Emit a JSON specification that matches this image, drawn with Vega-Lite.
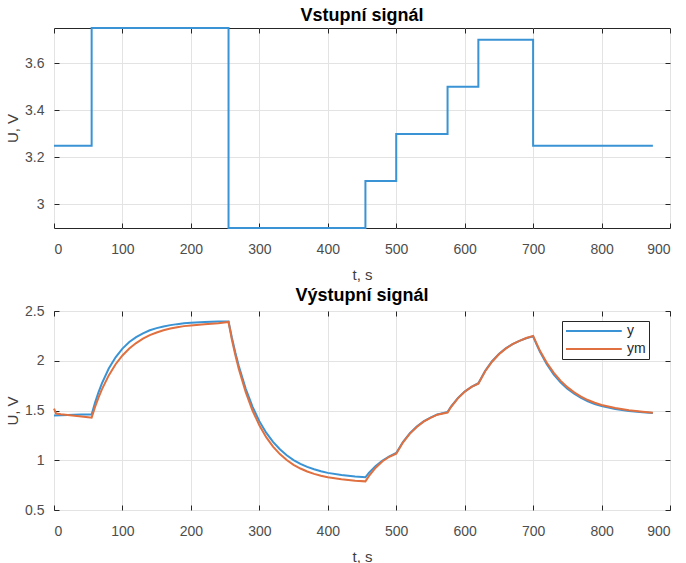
{
  "$schema": "https://vega.github.io/schema/vega-lite/v6.json",
  "background": "white",
  "padding": {"left": 5, "top": 6, "right": 3, "bottom": 1},
  "spacing": 3,
  "config": {
    "font": "Liberation Sans",
    "view": {"stroke": "#262626", "strokeWidth": 1},
    "axis": {
      "labelFont": "Liberation Sans",
      "labelFontSize": 14,
      "labelColor": "#4d4d4d",
      "titleFont": "Liberation Sans",
      "titleFontSize": 15,
      "titleFontWeight": "normal",
      "titleColor": "#404040",
      "gridColor": "#e3e3e3",
      "gridWidth": 1,
      "domain": false,
      "tickColor": "#262626",
      "tickSize": -5
    },
    "axisX": {"labelPadding": 19, "titlePadding": 11},
    "axisY": {"labelPadding": 15, "titlePadding": 4},
    "title": {"font": "Liberation Sans", "fontSize": 18, "fontWeight": "bold", "color": "#000000", "offset": -1},
    "legend": {"labelFont": "Liberation Sans", "labelFontSize": 14, "labelColor": "#262626"}
  },
  "datasets": {
    "u": [
      {"t": 0, "u": 3.25}, {"t": 55, "u": 3.75}, {"t": 255, "u": 2.9}, {"t": 455, "u": 3.1},
      {"t": 500, "u": 3.3}, {"t": 575, "u": 3.5}, {"t": 620, "u": 3.7}, {"t": 700, "u": 3.25}, {"t": 875, "u": 3.25}
    ],
    "y": [
      {"t": 0, "v": 1.45, "s": "y"}, {"t": 20, "v": 1.455, "s": "y"}, {"t": 40, "v": 1.46, "s": "y"}, {"t": 55, "v": 1.46, "s": "y"},
      {"t": 60, "v": 1.579, "s": "y"}, {"t": 65, "v": 1.683, "s": "y"}, {"t": 70, "v": 1.773, "s": "y"}, {"t": 80, "v": 1.922, "s": "y"},
      {"t": 90, "v": 2.035, "s": "y"}, {"t": 100, "v": 2.122, "s": "y"}, {"t": 110, "v": 2.188, "s": "y"}, {"t": 120, "v": 2.238, "s": "y"},
      {"t": 130, "v": 2.276, "s": "y"}, {"t": 140, "v": 2.306, "s": "y"}, {"t": 150, "v": 2.328, "s": "y"}, {"t": 160, "v": 2.345, "s": "y"},
      {"t": 170, "v": 2.358, "s": "y"}, {"t": 180, "v": 2.368, "s": "y"}, {"t": 190, "v": 2.376, "s": "y"}, {"t": 200, "v": 2.381, "s": "y"},
      {"t": 220, "v": 2.389, "s": "y"}, {"t": 240, "v": 2.394, "s": "y"}, {"t": 255, "v": 2.395, "s": "y"},
      {"t": 260, "v": 2.228, "s": "y"}, {"t": 265, "v": 2.08, "s": "y"}, {"t": 270, "v": 1.946, "s": "y"}, {"t": 280, "v": 1.72, "s": "y"},
      {"t": 290, "v": 1.538, "s": "y"}, {"t": 300, "v": 1.393, "s": "y"}, {"t": 310, "v": 1.277, "s": "y"}, {"t": 320, "v": 1.184, "s": "y"},
      {"t": 330, "v": 1.11, "s": "y"}, {"t": 340, "v": 1.05, "s": "y"}, {"t": 350, "v": 1.002, "s": "y"}, {"t": 360, "v": 0.964, "s": "y"},
      {"t": 370, "v": 0.933, "s": "y"}, {"t": 380, "v": 0.909, "s": "y"}, {"t": 390, "v": 0.889, "s": "y"}, {"t": 400, "v": 0.873, "s": "y"},
      {"t": 420, "v": 0.851, "s": "y"}, {"t": 440, "v": 0.836, "s": "y"}, {"t": 455, "v": 0.829, "s": "y"},
      {"t": 460, "v": 0.872, "s": "y"}, {"t": 470, "v": 0.943, "s": "y"}, {"t": 480, "v": 0.998, "s": "y"}, {"t": 490, "v": 1.04, "s": "y"},
      {"t": 500, "v": 1.073, "s": "y"}, {"t": 510, "v": 1.186, "s": "y"}, {"t": 520, "v": 1.272, "s": "y"}, {"t": 530, "v": 1.339, "s": "y"},
      {"t": 540, "v": 1.39, "s": "y"}, {"t": 550, "v": 1.429, "s": "y"}, {"t": 560, "v": 1.46, "s": "y"}, {"t": 575, "v": 1.485, "s": "y"},
      {"t": 580, "v": 1.54, "s": "y"}, {"t": 590, "v": 1.625, "s": "y"}, {"t": 600, "v": 1.69, "s": "y"}, {"t": 610, "v": 1.738, "s": "y"},
      {"t": 620, "v": 1.775, "s": "y"}, {"t": 630, "v": 1.9, "s": "y"}, {"t": 640, "v": 1.995, "s": "y"}, {"t": 650, "v": 2.068, "s": "y"},
      {"t": 660, "v": 2.125, "s": "y"}, {"t": 670, "v": 2.168, "s": "y"}, {"t": 680, "v": 2.2, "s": "y"}, {"t": 690, "v": 2.226, "s": "y"},
      {"t": 700, "v": 2.245, "s": "y"}, {"t": 705, "v": 2.164, "s": "y"}, {"t": 710, "v": 2.09, "s": "y"}, {"t": 720, "v": 1.965, "s": "y"},
      {"t": 730, "v": 1.864, "s": "y"}, {"t": 740, "v": 1.783, "s": "y"}, {"t": 750, "v": 1.719, "s": "y"}, {"t": 760, "v": 1.668, "s": "y"},
      {"t": 770, "v": 1.626, "s": "y"}, {"t": 780, "v": 1.593, "s": "y"}, {"t": 790, "v": 1.566, "s": "y"}, {"t": 800, "v": 1.545, "s": "y"},
      {"t": 820, "v": 1.515, "s": "y"}, {"t": 840, "v": 1.495, "s": "y"}, {"t": 860, "v": 1.483, "s": "y"}, {"t": 875, "v": 1.476, "s": "y"},
      {"t": 0, "v": 1.52, "s": "ym"}, {"t": 3, "v": 1.47, "s": "ym"}, {"t": 10, "v": 1.462, "s": "ym"}, {"t": 20, "v": 1.455, "s": "ym"},
      {"t": 30, "v": 1.447, "s": "ym"}, {"t": 40, "v": 1.44, "s": "ym"}, {"t": 50, "v": 1.432, "s": "ym"}, {"t": 55, "v": 1.428, "s": "ym"},
      {"t": 60, "v": 1.536, "s": "ym"}, {"t": 65, "v": 1.63, "s": "ym"}, {"t": 70, "v": 1.713, "s": "ym"}, {"t": 80, "v": 1.853, "s": "ym"},
      {"t": 90, "v": 1.965, "s": "ym"}, {"t": 100, "v": 2.053, "s": "ym"}, {"t": 110, "v": 2.123, "s": "ym"}, {"t": 120, "v": 2.178, "s": "ym"},
      {"t": 130, "v": 2.222, "s": "ym"}, {"t": 140, "v": 2.257, "s": "ym"}, {"t": 150, "v": 2.284, "s": "ym"}, {"t": 160, "v": 2.306, "s": "ym"},
      {"t": 170, "v": 2.324, "s": "ym"}, {"t": 180, "v": 2.337, "s": "ym"}, {"t": 190, "v": 2.348, "s": "ym"}, {"t": 200, "v": 2.355, "s": "ym"},
      {"t": 220, "v": 2.368, "s": "ym"}, {"t": 240, "v": 2.378, "s": "ym"}, {"t": 255, "v": 2.39, "s": "ym"},
      {"t": 260, "v": 2.209, "s": "ym"}, {"t": 265, "v": 2.055, "s": "ym"}, {"t": 270, "v": 1.918, "s": "ym"}, {"t": 280, "v": 1.687, "s": "ym"},
      {"t": 290, "v": 1.5, "s": "ym"}, {"t": 300, "v": 1.352, "s": "ym"}, {"t": 310, "v": 1.232, "s": "ym"}, {"t": 320, "v": 1.137, "s": "ym"},
      {"t": 330, "v": 1.062, "s": "ym"}, {"t": 340, "v": 1.002, "s": "ym"}, {"t": 350, "v": 0.954, "s": "ym"}, {"t": 360, "v": 0.917, "s": "ym"},
      {"t": 370, "v": 0.887, "s": "ym"}, {"t": 380, "v": 0.863, "s": "ym"}, {"t": 390, "v": 0.844, "s": "ym"}, {"t": 400, "v": 0.829, "s": "ym"},
      {"t": 420, "v": 0.808, "s": "ym"}, {"t": 440, "v": 0.795, "s": "ym"}, {"t": 455, "v": 0.788, "s": "ym"},
      {"t": 460, "v": 0.84, "s": "ym"}, {"t": 470, "v": 0.925, "s": "ym"}, {"t": 480, "v": 0.99, "s": "ym"}, {"t": 490, "v": 1.035, "s": "ym"},
      {"t": 500, "v": 1.065, "s": "ym"}, {"t": 510, "v": 1.18, "s": "ym"}, {"t": 520, "v": 1.268, "s": "ym"}, {"t": 530, "v": 1.335, "s": "ym"},
      {"t": 540, "v": 1.388, "s": "ym"}, {"t": 550, "v": 1.426, "s": "ym"}, {"t": 560, "v": 1.458, "s": "ym"}, {"t": 575, "v": 1.48, "s": "ym"},
      {"t": 580, "v": 1.535, "s": "ym"}, {"t": 590, "v": 1.622, "s": "ym"}, {"t": 600, "v": 1.688, "s": "ym"}, {"t": 610, "v": 1.737, "s": "ym"},
      {"t": 620, "v": 1.77, "s": "ym"}, {"t": 630, "v": 1.895, "s": "ym"}, {"t": 640, "v": 1.99, "s": "ym"}, {"t": 650, "v": 2.065, "s": "ym"},
      {"t": 660, "v": 2.122, "s": "ym"}, {"t": 670, "v": 2.167, "s": "ym"}, {"t": 680, "v": 2.2, "s": "ym"}, {"t": 690, "v": 2.228, "s": "ym"},
      {"t": 700, "v": 2.25, "s": "ym"}, {"t": 705, "v": 2.175, "s": "ym"}, {"t": 710, "v": 2.1, "s": "ym"}, {"t": 720, "v": 1.98, "s": "ym"},
      {"t": 730, "v": 1.88, "s": "ym"}, {"t": 740, "v": 1.8, "s": "ym"}, {"t": 750, "v": 1.735, "s": "ym"}, {"t": 760, "v": 1.682, "s": "ym"},
      {"t": 770, "v": 1.64, "s": "ym"}, {"t": 780, "v": 1.605, "s": "ym"}, {"t": 790, "v": 1.578, "s": "ym"}, {"t": 800, "v": 1.556, "s": "ym"},
      {"t": 820, "v": 1.525, "s": "ym"}, {"t": 840, "v": 1.502, "s": "ym"}, {"t": 860, "v": 1.488, "s": "ym"}, {"t": 875, "v": 1.478, "s": "ym"}
    ]
  },
  "vconcat": [
    {
      "width": 616,
      "height": 200,
      "title": "Vstupní signál",
      "data": {"name": "u"},
      "resolve": {"axis": {"x": "independent", "y": "independent"}},
      "layer": [
        {
          "mark": {"type": "line", "interpolate": "step-after", "color": "#3a93d4", "strokeWidth": 2},
          "encoding": {
            "x": {"field": "t", "type": "quantitative", "scale": {"domain": [0, 900], "nice": false},
                  "axis": {"title": "t, s", "orient": "bottom", "values": [0,100,200,300,400,500,600,700,800,900]}},
            "y": {"field": "u", "type": "quantitative", "scale": {"domain": [2.9, 3.75], "nice": false, "zero": false},
                  "axis": {"title": "U, V", "orient": "left", "values": [3, 3.2, 3.4, 3.6], "format": "~g"}}
          }
        },
        {
          "mark": {"type": "line", "opacity": 0},
          "encoding": {
            "x": {"field": "t", "type": "quantitative", "axis": {"orient": "top", "labels": false, "grid": false, "title": null, "values": [0,100,200,300,400,500,600,700,800,900]}},
            "y": {"field": "u", "type": "quantitative", "axis": {"orient": "right", "labels": false, "grid": false, "title": null, "values": [3, 3.2, 3.4, 3.6]}}
          }
        }
      ]
    },
    {
      "width": 616,
      "height": 199,
      "title": "Výstupní signál",
      "data": {"name": "y"},
      "resolve": {"axis": {"x": "independent", "y": "independent"}},
      "layer": [
        {
          "mark": {"type": "line", "strokeWidth": 2},
          "encoding": {
            "x": {"field": "t", "type": "quantitative", "scale": {"domain": [0, 900], "nice": false},
                  "axis": {"title": "t, s", "orient": "bottom", "values": [0,100,200,300,400,500,600,700,800,900]}},
            "y": {"field": "v", "type": "quantitative", "scale": {"domain": [0.5, 2.5], "nice": false, "zero": false},
                  "axis": {"title": "U, V", "orient": "left", "values": [0.5, 1, 1.5, 2, 2.5], "format": "~g"}},
            "color": {"field": "s", "type": "nominal",
                      "scale": {"domain": ["y", "ym"], "range": ["#3a93d4", "#e0703f"]},
                      "legend": {"title": null, "orient": "none", "legendX": 508, "legendY": 293,
                                 "symbolType": "M-1,0H8.3", "symbolSize": 144, "symbolStrokeWidth": 2,
                                 "strokeColor": "#262626", "fillColor": "white", "padding": 3,
                                 "labelOffset": 48, "rowPadding": 4}}
          }
        },
        {
          "mark": {"type": "line", "opacity": 0},
          "encoding": {
            "x": {"field": "t", "type": "quantitative", "axis": {"orient": "top", "labels": false, "grid": false, "title": null, "values": [0,100,200,300,400,500,600,700,800,900]}},
            "y": {"field": "v", "type": "quantitative", "axis": {"orient": "right", "labels": false, "grid": false, "title": null, "values": [0.5, 1, 1.5, 2, 2.5]}}
          }
        }
      ]
    }
  ]
}
